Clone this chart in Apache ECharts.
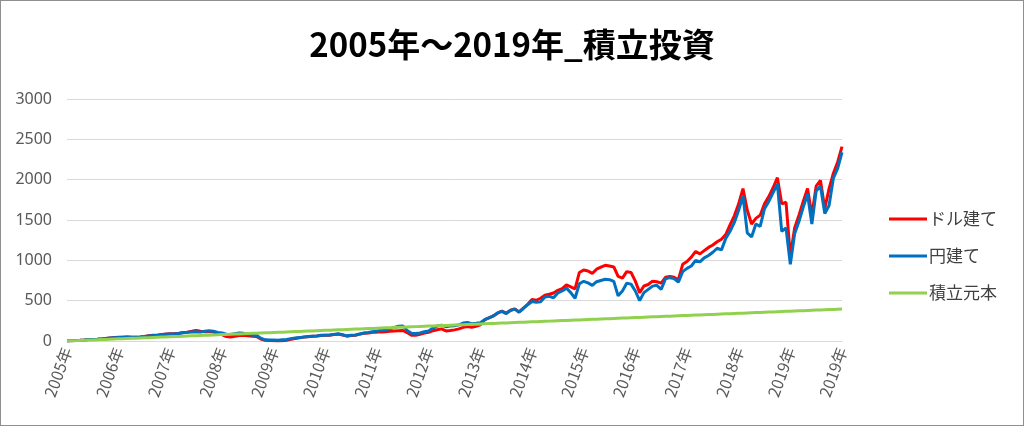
<!DOCTYPE html>
<html>
<head>
<meta charset="utf-8">
<script src="https://cdn.jsdelivr.net/npm/echarts@6/dist/echarts.min.js"></script>
<style>
html,body{margin:0;padding:0;background:#fff;}
#chart{width:1024px;height:426px;box-sizing:border-box;border:1px solid #8f8f8f;}
</style>
</head>
<body>
<div id="chart"></div>
<script>
// Tick labels on the x axis (one per year boundary, last = end of 2019)
const yearLabels = ['2005年','2006年','2007年','2008年','2009年','2010年','2011年','2012年','2013年','2014年','2015年','2016年','2017年','2018年','2019年','2019年'];
const seriesNames = ['ドル建て','円建て','積立元本'];

// ドル建て (monthly, 2005/01 .. 2019/12末)
const dollarValues = [0,2,5,8,12,18,20,22,26,30,38,42,45,48,50,48,46,50,55,65,70,72,80,86,90,92,95,105,110,120,132,122,115,118,110,95,80,55,50,58,68,72,65,60,55,25,8,5,3,0,2,10,22,32,40,48,52,58,62,68,70,72,80,85,75,60,68,72,85,95,100,108,110,113,116,122,125,128,130,105,72,70,82,98,108,128,140,150,125,130,138,150,170,180,170,182,200,262,288,310,345,372,345,382,398,360,408,455,515,505,530,568,580,595,628,650,695,672,645,850,880,868,838,890,915,938,930,918,800,780,860,850,742,600,682,700,742,735,718,790,800,790,760,950,985,1040,1110,1080,1120,1160,1190,1230,1262,1320,1440,1552,1700,1890,1620,1450,1520,1560,1700,1790,1900,2025,1700,1720,1050,1400,1560,1730,1890,1560,1920,1990,1640,1890,2080,2220,2410];

// 円建て
const yenValues = [0,2,5,8,12,18,20,22,26,30,36,40,44,48,50,48,46,50,55,63,68,72,78,84,88,90,94,103,108,112,115,110,120,128,122,105,100,85,80,90,100,95,82,72,70,35,14,12,12,10,15,20,29,38,42,50,55,60,62,70,72,74,82,90,78,64,72,75,88,98,105,116,124,135,140,150,168,182,185,130,95,92,100,115,125,160,185,195,178,185,190,200,222,230,215,220,226,264,287,310,348,368,340,378,395,357,403,450,490,480,485,545,555,535,595,620,655,600,530,710,740,720,690,735,750,765,760,740,560,620,715,705,620,500,600,640,680,690,640,770,785,775,730,860,900,930,1000,980,1030,1060,1100,1150,1130,1270,1360,1470,1620,1800,1340,1290,1450,1420,1640,1730,1840,1945,1360,1400,950,1330,1480,1660,1820,1450,1860,1920,1580,1680,2020,2140,2340];

// 積立元本
const principalValues = [0,2.2,4.4,6.6,8.8,11,13.2,15.4,17.6,19.8,22,24.2,26.4,28.6,30.8,33,35.2,37.4,39.6,41.8,44,46.2,48.4,50.6,52.8,55,57.2,59.4,61.6,63.8,66,68.2,70.4,72.6,74.8,77,79.2,81.4,83.6,85.8,88,90.2,92.4,94.6,96.8,99,101.2,103.4,105.6,107.8,110,112.2,114.4,116.6,118.8,121,123.2,125.4,127.6,129.8,132,134.2,136.4,138.6,140.8,143,145.2,147.4,149.6,151.8,154,156.2,158.4,160.6,162.8,165,167.2,169.4,171.6,173.8,176,178.2,180.4,182.6,184.8,187,189.2,191.4,193.6,195.8,198,200.2,202.4,204.6,206.8,209,211.2,213.4,215.6,217.8,220,222.2,224.4,226.6,228.8,231,233.2,235.4,237.6,239.8,242,244.2,246.4,248.6,250.8,253,255.2,257.4,259.6,261.8,264,266.2,268.4,270.6,272.8,275,277.2,279.4,281.6,283.8,286,288.2,290.4,292.6,294.8,297,299.2,301.4,303.6,305.8,308,310.2,312.4,314.6,316.8,319,321.2,323.4,325.6,327.8,330,332.2,334.4,336.6,338.8,341,343.2,345.4,347.6,349.8,352,354.2,356.4,358.6,360.8,363,365.2,367.4,369.6,371.8,374,376.2,378.4,380.6,382.8,385,387.2,389.4,391.6,393.8,396];

// Month categories 2005/01 .. 2019/12 plus the year-end point
const categories = [];
for (let y = 2005; y <= 2019; y++) {
  for (let m = 1; m <= 12; m++) categories.push(y + '/' + (m < 10 ? '0' + m : m));
}
categories.push('2019/12末');
const lastIdx = categories.length - 1;

const chart = echarts.init(document.getElementById('chart'), null, {renderer: 'canvas'});
const jp = "'Noto Sans CJK JP', 'Noto Sans', sans-serif";
chart.setOption({
  animation: false,
  backgroundColor: '#ffffff',
  title: {
    text: '2005年～2019年_積立投資',
    left: 'center',
    top: 22,
    textStyle: {fontSize: 33, fontWeight: 'bold', color: '#000000', fontFamily: jp}
  },
  legend: {
    orient: 'vertical',
    left: 883,
    top: 204,
    itemWidth: 38,
    itemHeight: 3,
    itemGap: 19,
    icon: 'rect',
    data: seriesNames,
    textStyle: {fontSize: 17, color: '#404040', fontFamily: jp, lineHeight: 18, padding: [0, 0, 0, -3]}
  },
  grid: {left: 66, right: 181, top: 98, bottom: 84, containLabel: false},
  xAxis: {
    type: 'category',
    data: categories,
    boundaryGap: false,
    axisLine: {show: true, lineStyle: {color: '#d9d9d9', width: 1}},
    axisTick: {show: false},
    splitLine: {show: false},
    axisLabel: {
      rotate: 70,
      margin: 7,
      color: '#595959',
      fontSize: 16,
      fontFamily: jp,
      interval: function (idx) { return idx % 12 === 0 || idx === lastIdx; },
      formatter: function (v, idx) { return idx === lastIdx ? yearLabels[yearLabels.length - 1] : yearLabels[idx / 12]; }
    }
  },
  yAxis: {
    type: 'value',
    min: 0,
    max: 3000,
    interval: 500,
    axisLine: {show: false},
    axisTick: {show: false},
    splitLine: {lineStyle: {color: '#d9d9d9', width: 1}},
    axisLabel: {color: '#595959', fontSize: 16, fontFamily: "'Noto Sans', sans-serif", margin: 15,
      formatter: function (v) { return String(v); }}
  },
  series: [
    {name: seriesNames[0], type: 'line', data: dollarValues, showSymbol: false, symbol: 'none', color: '#ff0000', lineStyle: {width: 3, color: '#ff0000'}},
    {name: seriesNames[1], type: 'line', data: yenValues, showSymbol: false, symbol: 'none', color: '#0070c0', lineStyle: {width: 3, color: '#0070c0'}},
    {name: seriesNames[2], type: 'line', data: principalValues, showSymbol: false, symbol: 'none', color: '#92d050', lineStyle: {width: 3, color: '#92d050'}}
  ]
});
</script>
</body>
</html>
